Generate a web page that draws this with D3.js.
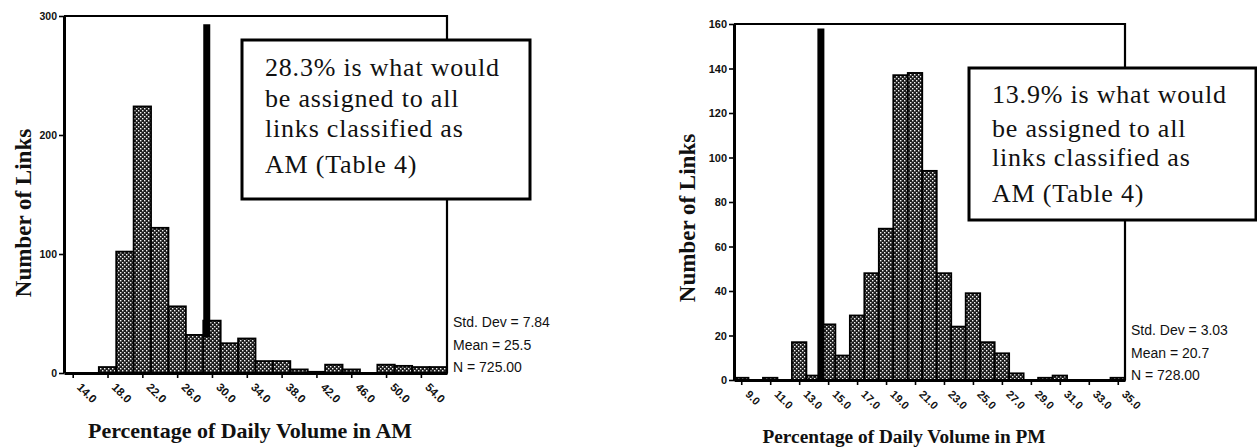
<!DOCTYPE html>
<html><head><meta charset="utf-8">
<script src="https://cdn.jsdelivr.net/npm/d3@7"></script>
<style>body{margin:0;background:#fff} svg{display:block}</style>
</head><body>
<svg id="c" width="1257" height="447"></svg>
<script>
// ---------- DATA ----------
const amBins   = [14,16,18,20,22,24,26,28,30,32,34,36,38,40,42,44,46,48,50,52,54,56];
const amCounts = [0,0,5,102,224,122,56,32,44,25,29,10,10,3,1,7,3,0,7,6,5,5];
const amTickValues = [14,18,22,26,30,34,38,42,46,50,54];
const amTickLabels = ["14.0","18.0","22.0","26.0","30.0","34.0","38.0","42.0","46.0","50.0","54.0"];
const amYTicks = [0,100,200,300];
const amStats = ["Std. Dev = 7.84","Mean = 25.5","N = 725.00"];
const amNote = ["28.3% is what would","be assigned to all","links classified as","AM (Table 4)"];
const amRefLine = {x: 29.4, top: 293, bottom: 30};
const amXTitle = "Percentage of Daily Volume in AM";

const pmBins   = [9,10,11,12,13,14,15,16,17,18,19,20,21,22,23,24,25,26,27,28,29,30,31,32,33,34,35];
const pmCounts = [1,0,1,0,17,2,25,11,29,48,68,137,138,94,48,24,39,17,12,3,0,1,2,0,0,0,1];
const pmTickValues = [9,11,13,15,17,19,21,23,25,27,29,31,33,35];
const pmTickLabels = ["9.0","11.0","13.0","15.0","17.0","19.0","21.0","23.0","25.0","27.0","29.0","31.0","33.0","35.0"];
const pmYTicks = [0,20,40,60,80,100,120,140,160];
const pmStats = ["Std. Dev = 3.03","Mean = 20.7","N = 728.00"];
const pmNote = ["13.9% is what would","be assigned to all","links classified as","AM (Table 4)"];
const pmRefLine = {x: 14.5, top: 158, bottom: 0};
const pmXTitle = "Percentage of Daily Volume in PM";
const yTitle = "Number of Links";

// ---------- DRAW ----------
const svg = d3.select("#c");
const defs = svg.append("defs");
const pat = defs.append("pattern").attr("id","stip").attr("patternUnits","userSpaceOnUse")
  .attr("width",4).attr("height",4);
pat.append("rect").attr("width",4).attr("height",4).attr("fill","#1c1c1c");
pat.append("rect").attr("x",0).attr("y",0).attr("width",1.4).attr("height",1.4).attr("fill","#f4f4f4");
pat.append("rect").attr("x",2).attr("y",2).attr("width",1.4).attr("height",1.4).attr("fill","#f4f4f4");

const serif = "'Liberation Serif','Times New Roman',serif";
const sans = "'Liberation Sans',Arial,sans-serif";

function panel(o) {
  const g = svg.append("g");
  const x = d3.scaleLinear().domain(o.xDomain).range([o.left, o.right]);
  const y = d3.scaleLinear().domain(o.yDomain).range([o.bottom, o.top]);

  // bars
  g.selectAll("rect.bar").data(o.bins.map((b,i)=>({b, v:o.counts[i]})).filter(d=>d.v>0))
    .join("rect").attr("class","bar")
    .attr("x", d=>x(d.b - o.binW/2))
    .attr("width", d=>x(d.b + o.binW/2) - x(d.b - o.binW/2))
    .attr("y", d=>y(d.v))
    .attr("height", d=>y(0)-y(d.v))
    .attr("fill","url(#stip)").attr("stroke","#000").attr("stroke-width",1.8);

  // frame top/right
  g.append("path").attr("d",`M${o.left},${o.top}H${o.right}V${o.bottom}`)
    .attr("fill","none").attr("stroke","#000").attr("stroke-width",2.2);

  // x axis
  const xa = g.append("g").attr("transform",`translate(0,${o.bottom})`)
    .call(d3.axisBottom(x).tickValues(o.tickValues).tickSize(5).tickSizeOuter(0)
      .tickFormat((d,i)=>o.tickLabels[i]));
  xa.select(".domain").attr("stroke-width",3);
  xa.selectAll(".tick line").attr("stroke-width",1.6);
  xa.selectAll(".tick text").attr("font-family",sans).attr("font-weight","bold")
    .attr("font-size",o.tickFont).attr("fill","#111")
    .attr("text-anchor","start").attr("dy",null)
    .attr("transform","translate(3,15) rotate(45)").attr("y",0).attr("x",0);

  // y axis
  const ya = g.append("g").attr("transform",`translate(${o.left},0)`)
    .call(d3.axisLeft(y).tickValues(o.yTicks).tickSize(5).tickSizeOuter(0));
  ya.select(".domain").attr("stroke-width",3);
  ya.selectAll(".tick line").attr("stroke-width",1.6);
  ya.selectAll(".tick text").attr("font-family",sans).attr("font-weight","bold")
    .attr("font-size",o.yFont).attr("fill","#111").attr("x",-7);

  // reference line
  g.append("line").attr("x1",x(o.ref.x)).attr("x2",x(o.ref.x))
    .attr("y1",y(o.ref.top)).attr("y2",y(o.ref.bottom))
    .attr("stroke","#000").attr("stroke-width",7);

  // stats
  g.selectAll("text.stat").data(o.stats).join("text").attr("class","stat")
    .attr("x", o.right + 6).attr("y",(d,i)=>o.statY + i*22.5)
    .attr("font-family",sans).attr("font-size",14).attr("fill","#111").text(d=>d);

  // axis titles
  g.append("text").attr("transform",`translate(${o.yTitleX},${o.yTitleY}) rotate(-90)`)
    .attr("text-anchor","middle").attr("font-family",serif).attr("font-weight","bold")
    .attr("font-size",23).attr("fill","#111").text(yTitle);
  g.append("text").attr("x",o.xTitleX).attr("y",o.xTitleY).attr("text-anchor","middle")
    .attr("font-family",serif).attr("font-weight","bold").attr("font-size",o.xTitleFont)
    .attr("fill","#111").text(o.xTitle);

  // note box
  const b = o.box;
  g.append("rect").attr("x",b.x).attr("y",b.y).attr("width",b.w).attr("height",b.h)
    .attr("fill","#fff").attr("stroke","#000").attr("stroke-width",3);
  g.selectAll("text.note").data(o.note).join("text").attr("class","note")
    .attr("x",b.tx).attr("y",(d,i)=>b.lines[i])
    .attr("font-family",serif).attr("font-size",26).attr("letter-spacing",0.8)
    .attr("fill","#111").text(d=>d);
}

panel({
  bins: amBins, counts: amCounts, binW: 2,
  xDomain: [13,57], yDomain: [0,300],
  left: 64, right: 447, top: 16, bottom: 373,
  tickValues: amTickValues, tickLabels: amTickLabels, yTicks: amYTicks,
  tickFont: 11.5, yFont: 10.5,
  ref: amRefLine, stats: amStats, statY: 327,
  yTitleX: 31, yTitleY: 213, xTitleX: 250, xTitleY: 438, xTitleFont: 22, xTitle: amXTitle,
  note: amNote, box: {x:242, y:40, w:288, h:159, tx:265, lines:[76,107,137,173]}
});
panel({
  bins: pmBins, counts: pmCounts, binW: 1,
  xDomain: [8.5,35.5], yDomain: [0,160],
  left: 734, right: 1125, top: 24, bottom: 380,
  tickValues: pmTickValues, tickLabels: pmTickLabels, yTicks: pmYTicks,
  tickFont: 11, yFont: 11,
  ref: pmRefLine, stats: pmStats, statY: 335,
  yTitleX: 695, yTitleY: 218, xTitleX: 904, xTitleY: 443, xTitleFont: 19.3, xTitle: pmXTitle,
  note: pmNote, box: {x:969, y:68, w:287, h:152, tx:992, lines:[103,137,166,202]}
});
</script>
</body></html>
